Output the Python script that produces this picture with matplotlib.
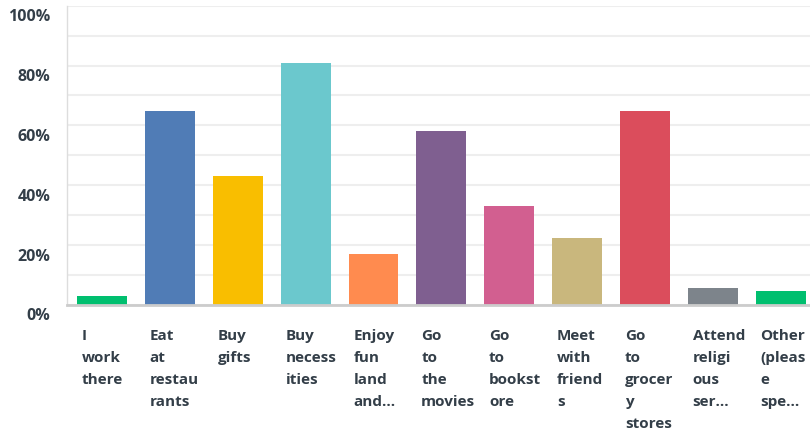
import matplotlib.pyplot as plt
from matplotlib.ticker import MultipleLocator, FuncFormatter
from matplotlib.transforms import ScaledTranslation

plt.rcParams['font.family'] = ['Open Sans', 'DejaVu Sans']

categories = ["I\nwork\nthere", "Eat\nat\nrestau\nrants", "Buy\ngifts",
              "Buy\nnecess\nities", "Enjoy\nfun\nland\nand...",
              "Go\nto\nthe\nmovies", "Go\nto\nbookst\nore",
              "Meet\nwith\nfriend\ns", "Go\nto\ngrocer\ny\nstores",
              "Attend\nreligi\nous\nser...", "Other\n(pleas\ne\nspe..."]
values = [3.1, 64.7, 43.0, 80.7, 17.2, 58.2, 33.1, 22.3, 64.7, 5.8, 4.8]
colors = ["#00bf6f", "#507cb6", "#f9be00", "#6bc8cd", "#ff8b4f", "#7f5f90",
          "#d25f90", "#c9b77d", "#db4d5c", "#7d848b", "#00bf6f"]

text_color = "#333e48"
bar_w = 0.736

fig = plt.figure(figsize=(8.1, 4.32), dpi=100)
ax = fig.add_axes([67 / 810, 127 / 432, 1 - 67 / 810, 299.3 / 432])

x = list(range(len(values)))
ax.bar(x, values, width=bar_w, color=colors, zorder=3)

ax.set_xlim(-0.515, 10.43)
ax.set_ylim(0, 100)
ax.yaxis.set_major_locator(MultipleLocator(20))
ax.yaxis.set_minor_locator(MultipleLocator(10))
ax.yaxis.set_major_formatter(FuncFormatter(lambda v, p: f"{int(v)}%"))
ax.grid(axis='y', which='both', color='#eeeeee', linewidth=1.5, zorder=0)
ax.tick_params(axis='y', which='both', length=0, pad=12,
               labelsize=11.5, labelcolor=text_color)
shift = ScaledTranslation(0, -0.095, fig.dpi_scale_trans)
for t in ax.get_yticklabels():
    t.set_fontweight('bold')
    t.set_transform(t.get_transform() + shift)

ax.set_xticks([i - bar_w / 2 + 0.07 for i in x])
ax.set_xticklabels(categories, ha='left', va='top', linespacing=1.73,
                   fontsize=11, fontweight='bold', color=text_color)
ax.tick_params(axis='x', length=0, pad=17)

for s in ['top', 'right']:
    ax.spines[s].set_visible(False)
ax.spines['left'].set_color('#dddddd')
ax.spines['left'].set_linewidth(1)
ax.spines['bottom'].set_color('#cccccc')
ax.spines['bottom'].set_linewidth(2)
ax.spines['bottom'].set_zorder(4)

fig.savefig("out.png", dpi=100)
